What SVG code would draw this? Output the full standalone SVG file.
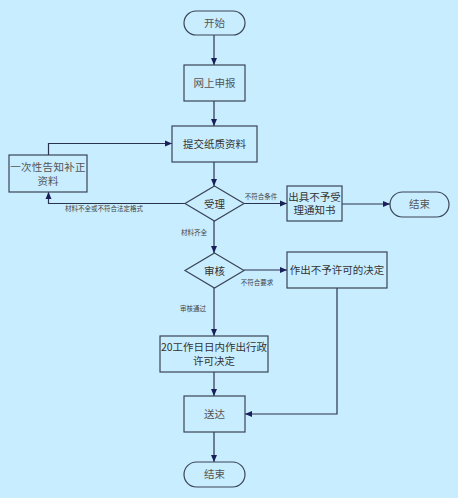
<svg xmlns="http://www.w3.org/2000/svg" width="458" height="498" viewBox="0 0 458 498">
<defs>
<style>
.n{fill:#c8edff;stroke:#3a4556;stroke-width:1.2}
.t{font-family:"Noto Sans CJK SC","Liberation Sans",sans-serif;font-size:10.5px;fill:#555;text-anchor:middle}
.d{fill:#333}
.s{font-family:"Noto Sans CJK SC","Liberation Sans",sans-serif;font-size:6.5px;fill:#444;text-anchor:middle}
.c{fill:none;stroke:#2a3350;stroke-width:1.2}
</style>
<marker id="a" markerWidth="8" markerHeight="8" refX="7" refY="4" orient="auto" markerUnits="userSpaceOnUse">
<path d="M0,1 L7,4 L0,7 Z" fill="#1a1f5a"/>
</marker>
</defs>
<rect width="458" height="498" fill="#c8edff"/>
<g id="connectors">
<path class="c" d="M214,35 V65" marker-end="url(#a)"/>
<path class="c" d="M214,101 V126" marker-end="url(#a)"/>
<path class="c" d="M214,162 V186" marker-end="url(#a)"/>
<path class="c" d="M48.5,155 V143.5 H172" marker-end="url(#a)"/>
<path class="c" d="M185,203.5 H48.5 V192" marker-end="url(#a)"/>
<path class="c" d="M244,203.5 H287" marker-end="url(#a)"/>
<path class="c" d="M342,204 H390" marker-end="url(#a)"/>
<path class="c" d="M214,221 V253" marker-end="url(#a)"/>
<path class="c" d="M244,270 H287" marker-end="url(#a)"/>
<path class="c" d="M214,288 V336" marker-end="url(#a)"/>
<path class="c" d="M214,372 V396" marker-end="url(#a)"/>
<path class="c" d="M337,288 V414 H245" marker-end="url(#a)"/>
<path class="c" d="M214,432 V462" marker-end="url(#a)"/>
<text class="s" x="104" y="211">材料不全或不符合法定格式</text>
<text class="s" x="261" y="199">不符合条件</text>
<text class="s" x="194" y="235">材料齐全</text>
<text class="s" x="257" y="285">不符合要求</text>
<text class="s" x="193" y="311">审核通过</text>
</g>
<g id="start"><rect class="n" x="184" y="11" width="61" height="24" rx="12"/><text class="t" x="214.5" y="27">开始</text></g>
<g id="online"><rect class="n" x="184" y="65" width="61" height="36"/><text class="t" x="214.5" y="87">网上申报</text></g>
<g id="submit"><rect class="n" x="172" y="126" width="85" height="36"/><text class="t d" x="214.5" y="148">提交纸质资料</text></g>
<g id="notify"><rect class="n" x="9" y="155" width="78" height="37"/><text class="t" x="48" y="171" letter-spacing="0.3">一次性告知补正</text><text class="t" x="48" y="185">资料</text></g>
<g id="accept"><path class="n" d="M214.5,186 L244,203.5 L214.5,221 L185,203.5 Z"/><text class="t d" x="214.5" y="207.5">受理</text></g>
<g id="reject1"><rect class="n" x="287" y="186" width="55" height="35"/><text class="t d" x="314.5" y="200.5">出具不予受</text><text class="t d" x="314.5" y="214">理通知书</text></g>
<g id="end1"><rect class="n" x="390" y="192" width="59" height="25" rx="12.5"/><text class="t" x="419.5" y="208">结束</text></g>
<g id="review"><path class="n" d="M214.5,253 L244,270.5 L214.5,288 L185,270.5 Z"/><text class="t d" x="214.5" y="274.5">审核</text></g>
<g id="reject2"><rect class="n" x="287" y="252" width="100" height="36"/><text class="t d" x="337" y="274">作出不予许可的决定</text></g>
<g id="decide"><rect class="n" x="160" y="336" width="108" height="36"/><text class="t d" x="214" y="351">20工作日日内作出行政</text><text class="t d" x="214" y="364.5">许可决定</text></g>
<g id="deliver"><rect class="n" x="184" y="396" width="61" height="36"/><text class="t" x="214.5" y="418">送达</text></g>
<g id="end2"><rect class="n" x="184" y="462" width="61" height="25" rx="12.5"/><text class="t" x="214.5" y="478">结束</text></g>
</svg>
